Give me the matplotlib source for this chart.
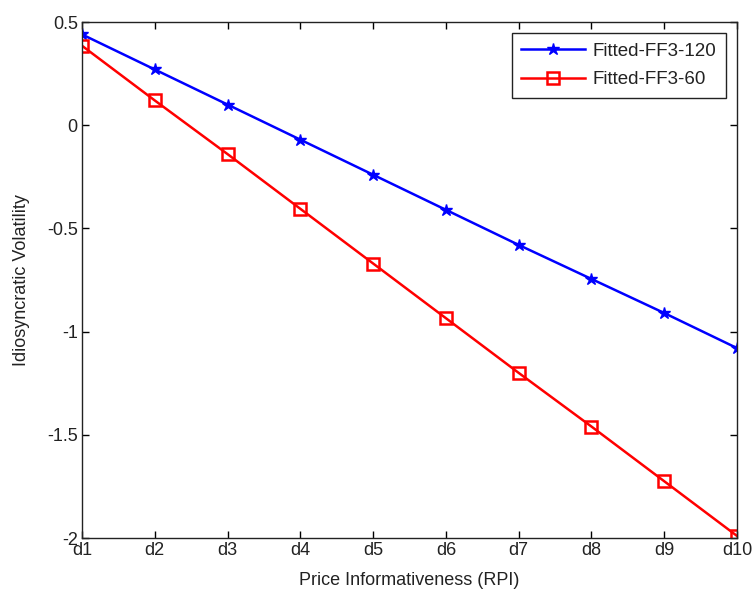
import matplotlib
matplotlib.use("Agg")
import matplotlib.pyplot as plt

plt.rcParams['font.family'] = ['Liberation Sans', 'DejaVu Sans']

# deciles of price informativeness
deciles = ["d1", "d2", "d3", "d4", "d5", "d6", "d7", "d8", "d9", "d10"]

# idiosyncratic volatility, fitted values
ff3_120 = [0.44, 0.27, 0.10, -0.07, -0.24, -0.41, -0.58, -0.745, -0.91, -1.08]
ff3_60 = [0.385, 0.12, -0.14, -0.405, -0.67, -0.935, -1.20, -1.46, -1.725, -1.99]

yticks = [-2, -1.5, -1, -0.5, 0, 0.5]
ytick_labels = ["-2", "-1.5", "-1", "-0.5", "0", "0.5"]

fig = plt.figure(figsize=(7.53, 5.92), dpi=100)
ax = fig.add_axes([0.1089, 0.0912, 0.8699, 0.8716])

x = list(range(1, len(deciles) + 1))
ax.plot(x, ff3_120, color="blue", linewidth=1.8, marker="*", markersize=9,
        label="Fitted-FF3-120")
ax.plot(x, ff3_60, color="red", linewidth=1.8, marker="s", markersize=9,
        markerfacecolor="none", markeredgewidth=1.8, label="Fitted-FF3-60")

ax.set_xlim(1, 10)
ax.set_ylim(-2, 0.5)
ax.set_xticks(x)
ax.set_xticklabels(deciles)
ax.set_yticks(yticks)
ax.set_yticklabels(ytick_labels)

ax.tick_params(direction="in", length=5, width=1, top=True, right=True,
               labelsize=13, pad=3, labelcolor="#222222")
for s in ax.spines.values():
    s.set_linewidth(1)
    s.set_color("#222222")

ax.set_xlabel("Price Informativeness (RPI)", fontsize=13, labelpad=9,
              color="#222222")
ax.set_ylabel("Idiosyncratic Volatility", fontsize=13, labelpad=12,
              color="#222222")

leg = ax.legend(loc="upper right", fontsize=13.5, fancybox=False, framealpha=1,
                edgecolor="#222222", handlelength=3.4, borderaxespad=0.6,
                labelspacing=0.6, handletextpad=0.4, borderpad=0.5)
leg.get_frame().set_linewidth(1)
for t in leg.get_texts():
    t.set_color("#222222")

fig.savefig("out.png", dpi=100)
